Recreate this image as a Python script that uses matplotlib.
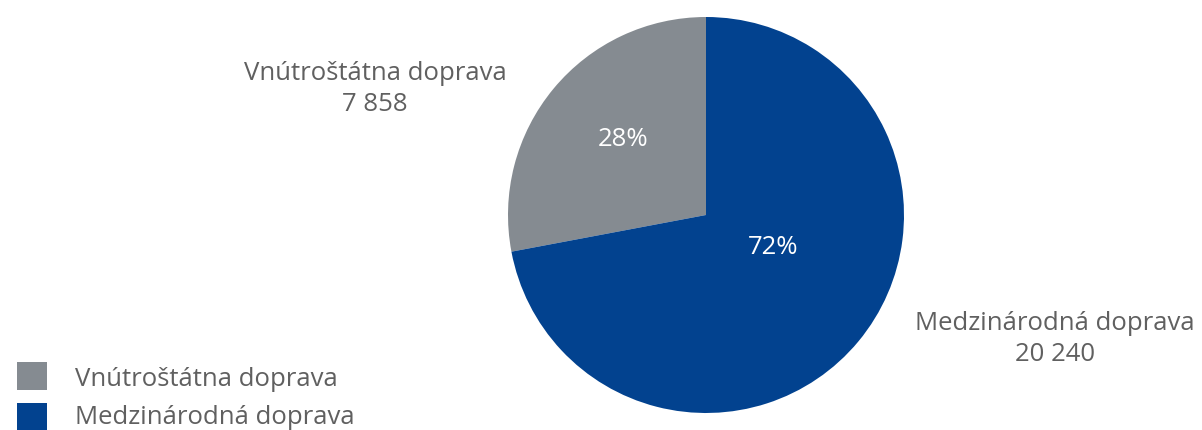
import matplotlib
matplotlib.use("Agg")
import matplotlib.pyplot as plt
from matplotlib.patches import Rectangle

categories = ["Vnútroštátna doprava", "Medzinárodná doprava"]
values = [7858, 20240]
colors = ["#858B91", "#02428F"]
value_labels = ["7 858", "20 240"]

plt.rcParams["font.family"] = ["Open Sans", "DejaVu Sans"]
TEXT_GRAY = "#606060"
FS = 18.5

fig = plt.figure(figsize=(12.02, 4.30), dpi=100)
ax = fig.add_axes([0, 0, 1, 1])

cx, cy, r = 706, 215, 198
wedges, _, pct_texts = ax.pie(
    values, colors=colors, startangle=90, counterclock=True,
    center=(cx, cy), radius=r, autopct="%1.0f%%",
    textprops=dict(color="white", fontsize=FS),
    wedgeprops=dict(linewidth=0),
)

# percentage labels inside the wedges
pct_pos = [(623, 290), (773, 182)]
for t, (x, y) in zip(pct_texts, pct_pos):
    t.set_position((x, y))
    t.set_ha("center")
    t.set_va("center")

# outside data labels (category + value)
label_pos = [(375, 341), (1055, 91)]
for cat, val, (x, y) in zip(categories, value_labels, label_pos):
    ax.text(x, y, f"{cat}\n{val}", ha="center", va="center",
            fontsize=FS, color=TEXT_GRAY, linespacing=1.32)

# legend
leg_y = [54, 13]
leg_text_y = [51, 13]
for cat, col, y, ty in zip(categories, colors, leg_y, leg_text_y):
    ax.add_patch(Rectangle((17, y - 14), 30, 28, color=col, lw=0))
    ax.text(75, ty, cat, ha="left", va="center", fontsize=FS, color=TEXT_GRAY)

ax.set_xlim(0, 1202)
ax.set_ylim(0, 430)
ax.set_aspect("auto")
ax.axis("off")

fig.savefig("out.png", dpi=100)
